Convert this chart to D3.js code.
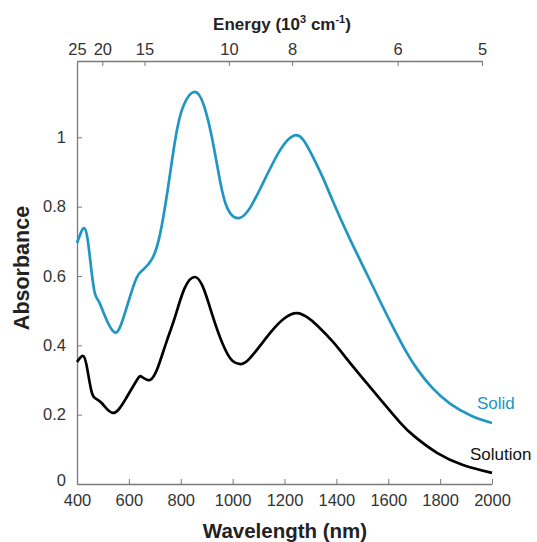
<!DOCTYPE html>
<html>
<head>
<meta charset="utf-8">
<script src="https://cdn.jsdelivr.net/npm/d3@7"></script>
<style>
body { margin:0; background:#fff; }
svg text { font-family: "Liberation Sans", Arial, sans-serif; }
</style>
</head>
<body>
<svg id="mainSVG" width="537" height="542"></svg>
<script>
// wavelength (nm) and absorbance
var solidNm  = [400, 415, 427, 440, 455, 469, 485, 510, 543, 570, 600, 630, 655, 690, 720, 750, 778, 810, 855, 890, 920, 950, 980, 1025, 1070, 1117, 1183, 1233, 1270, 1310, 1350, 1387, 1450, 1518, 1570, 1618, 1665, 1711, 1770, 1838, 1920, 2000];
var solidAbs = [0.695, 0.725, 0.738, 0.71, 0.62, 0.55, 0.525, 0.48, 0.438, 0.46, 0.53, 0.595, 0.618, 0.65, 0.72, 0.85, 0.99, 1.09, 1.131, 1.09, 1.00, 0.88, 0.795, 0.767, 0.80, 0.868, 0.963, 1.004, 0.995, 0.943, 0.88, 0.815, 0.71, 0.605, 0.525, 0.453, 0.387, 0.332, 0.277, 0.232, 0.197, 0.176];

var solnNm  = [400, 425, 440, 455, 469, 496, 539, 585, 631, 650, 681, 712, 745, 778, 815, 855, 890, 932, 970, 1000, 1030, 1067, 1144, 1200, 1248, 1290, 1325, 1387, 1441, 1518, 1580, 1645, 1700, 1788, 1888, 2000];
var solnAbs = [0.352, 0.369, 0.33, 0.27, 0.248, 0.233, 0.205, 0.242, 0.30, 0.309, 0.30, 0.337, 0.41, 0.482, 0.565, 0.597, 0.56, 0.464, 0.39, 0.355, 0.346, 0.363, 0.435, 0.478, 0.493, 0.48, 0.458, 0.41, 0.36, 0.29, 0.235, 0.178, 0.138, 0.09, 0.055, 0.032];

var nmTicks = [400, 600, 800, 1000, 1200, 1400, 1600, 1800, 2000];
var absTicks = [0, 0.2, 0.4, 0.6, 0.8, 1];
var energyTicks = [25, 20, 15, 10, 8, 6, 5];

var solidColor = '#2096c2';
var axisColor = '#7a7a7a';
var labelColor = '#333';

var $svg = d3.select('#mainSVG');

var x = d3.scaleLinear().domain([400, 2000]).range([77, 492]);
var xTop = d3.scaleLinear().domain([400, 2000]).range([77, 482]);
var y = d3.scaleLinear().domain([0, 1.22]).range([484, 61]);

// axes, ticks pointing inward
var $bottom = $svg.append('g').attr('transform', 'translate(0,484)')
    .call(d3.axisBottom(x).tickValues(nmTicks).tickSizeInner(-5).tickSizeOuter(0).tickPadding(10).tickFormat(d3.format('d')));
var $left = $svg.append('g').attr('transform', 'translate(77,0)')
    .call(d3.axisLeft(y).tickValues(absTicks).tickSizeInner(-5).tickSizeOuter(0).tickPadding(11).tickFormat(d=>d==0||d==1?d:d3.format('.1f')(d)));
var $top = $svg.append('g').attr('transform', 'translate(0,61)')
    .call(d3.axisTop(xTop).tickValues(energyTicks.map(e=>1e4/e)).tickSizeInner(-5).tickSizeOuter(0).tickPadding(6).tickFormat((d,i)=>energyTicks[i]));

[$bottom, $left, $top].forEach($a=>{
    $a.select('.domain').attr('stroke', axisColor).attr('stroke-width', 1.3);
    $a.selectAll('.tick line').attr('stroke', axisColor).attr('stroke-width', 1);
    $a.selectAll('.tick text').attr('fill', labelColor).attr('font-size', 16.5)
        .attr('font-family', '"Liberation Sans", Arial, sans-serif');
});
// lift the "0" a little so it clears "400"
$left.selectAll('.tick text').filter(d=>d==0).attr('dy', '0.12em');

// curves
var line = d3.line().x(d=>x(d[0])).y(d=>y(d[1])).curve(d3.curveNatural);

$svg.append('path')
    .attr('d', line(solidNm.map((d,i)=>[d, solidAbs[i]])))
    .attr('fill', 'none').attr('stroke', solidColor).attr('stroke-width', 2.7);

$svg.append('path')
    .attr('d', line(solnNm.map((d,i)=>[d, solnAbs[i]])))
    .attr('fill', 'none').attr('stroke', '#000').attr('stroke-width', 2.7);

// curve labels
$svg.append('text').attr('x', 477).attr('y', 409).attr('font-size', 17)
    .attr('fill', solidColor).text('Solid');
$svg.append('text').attr('x', 470).attr('y', 460).attr('font-size', 17)
    .attr('fill', '#111').text('Solution');

// axis titles
$svg.append('text').attr('x', 285).attr('y', 538).attr('text-anchor', 'middle')
    .attr('font-size', 20.5).attr('font-weight', 'bold').attr('fill', '#222').text('Wavelength (nm)');

var $eTitle = $svg.append('text').attr('x', 282).attr('y', 30).attr('text-anchor', 'middle')
    .attr('font-size', 17).attr('font-weight', 'bold').attr('fill', '#222');
$eTitle.append('tspan').text('Energy (10');
$eTitle.append('tspan').attr('font-size', 11).attr('dy', -7).text('3');
$eTitle.append('tspan').attr('dy', 7).text(' cm');
$eTitle.append('tspan').attr('font-size', 11).attr('dy', -7).text('-1');
$eTitle.append('tspan').attr('dy', 7).text(')');

$svg.append('text').attr('transform', 'translate(29,268) rotate(-90)').attr('text-anchor', 'middle')
    .attr('font-size', 21.5).attr('font-weight', 'bold').attr('fill', '#222').text('Absorbance');
</script>
</body>
</html>
